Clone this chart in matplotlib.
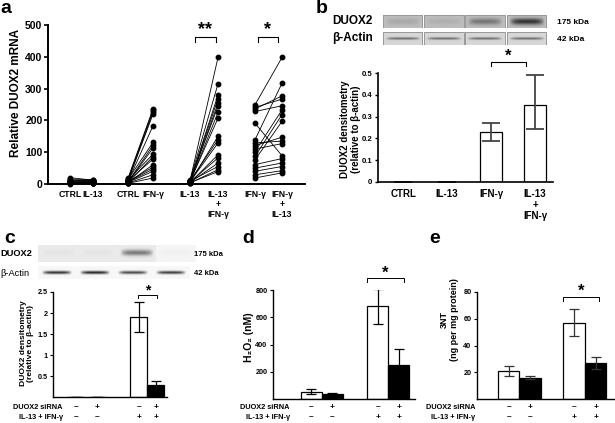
import numpy as np
import matplotlib
matplotlib.use("Agg")
import matplotlib.pyplot as plt
from matplotlib import transforms
from matplotlib.patches import Rectangle

plt.rcParams['font.family'] = ['Liberation Sans', 'DejaVu Sans']
plt.rcParams['font.weight'] = 'bold'

# ---------------- data ----------------
# panel a: paired donor values (relative DUOX2 mRNA)
a_ctrl_1 = [20, 15, 12, 10, 9, 8, 7, 6, 5, 5, 4, 4, 3, 3, 2, 2, 1]
a_il13_1 = [12, 14, 10, 9, 11, 8, 7, 6, 5, 6, 4, 5, 3, 4, 2, 3, 2]
a_ctrl_2 = [18, 15, 12, 10, 8, 14, 6, 5, 12, 4, 10, 3, 8, 6, 5, 3, 2]
a_ifng_2 = [236, 232, 225, 220, 183, 131, 122, 113, 94, 86, 78, 61, 53, 47, 40, 29, 19]
a_il13_3 = [10, 12, 8, 9, 7, 11, 6, 8, 5, 10, 7, 4, 6, 5, 9, 3, 4]
a_combo_3 = [398, 315, 280, 268, 254, 244, 225, 207, 150, 139, 129, 92, 82, 66, 55, 45, 39]
a_ifng_4 = [249, 241, 236, 228, 191, 139, 129, 121, 110, 102, 87, 76, 61, 50, 40, 29, 19]
a_combo_4 = [398, 267, 277, 246, 89, 317, 135, 147, 127, 233, 218, 197, 80, 66, 55, 42, 35]
a_labels = ["CTRL", "IL-13", "CTRL", "IFN-γ", "IL-13", "IL-13\n+\nIFN-γ", "IFN-γ", "IFN-γ\n+\nIL-13"]

# panel b: densitometry
b_labels = ["CTRL", "IL-13", "IFN-γ", "IL-13\n+\nIFN-γ"]
b_values = [0, 0, 0.23, 0.355]
b_err_low = [0, 0, 0.04, 0.11]
b_err_high = [0, 0, 0.04, 0.135]
b_blot_duox2 = [0.08, 0.05, 0.28, 0.55]
b_blot_actin = [0.50, 0.50, 0.50, 0.50]

# panels c, d, e
sirna = ["–", "+", "–", "+"]
cytokine = ["–", "–", "+", "+"]
c_values = [0, 0, 1.9, 0.28]
c_err = [0, 0, 0.36, 0.09]
c_blot_duox2 = [0.03, 0.03, 0.45, 0.02]
c_blot_actin = [0.85, 0.90, 0.75, 0.80]
d_values = [55, 35, 680, 250]
d_err = [15, 8, 130, 120]
e_values = [21, 16, 57, 27]
e_err = [3.5, 1, 10, 4.5]

# ---------------- layout helpers ----------------
W, H = 615, 423
fig = plt.figure(figsize=(6.15, 4.23), dpi=100)


def rect(x0, y0, x1, y1):
    return [x0 / W, 1 - y1 / H, (x1 - x0) / W, (y1 - y0) / H]


def fx(x):
    return x / W


def fy(y):
    return 1 - y / H


def style(ax, lw=1.2):
    for s in ("top", "right"):
        ax.spines[s].set_visible(False)
    for s in ("left", "bottom"):
        ax.spines[s].set_linewidth(lw)


def bracket(ax, x1, x2, ytop, ybot, ystar, stars, fs=11, lw=0.8):
    ax.plot([x1, x1, x2, x2], [ybot, ytop, ytop, ybot], color="black", lw=lw, clip_on=False)
    ax.text((x1 + x2) / 2, ystar, stars, ha="center", va="center", fontsize=fs, fontweight="bold")


def lane_img(strength, bg, sigma, widthfrac, nx=60, ny=30, yc=0.0):
    x = np.linspace(-1, 1, nx)
    y = np.linspace(-1, 1, ny)
    X, Y = np.meshgrid(x, y)
    band = strength * np.exp(-((Y - yc) / sigma) ** 2) * np.clip(1 - (np.abs(X) / widthfrac) ** 4, 0, 1)
    return np.clip(bg - band, 0, 1)


# ---------------- panel a ----------------
axa = fig.add_axes(rect(48, 25, 305, 184))
style(axa, 1.4)
xa = [70, 93, 128, 153, 190, 218, 255, 282]
pairs = [(a_ctrl_1, a_il13_1), (a_ctrl_2, a_ifng_2), (a_il13_3, a_combo_3), (a_ifng_4, a_combo_4)]
for k, (left, right) in enumerate(pairs):
    for l, r in zip(left, right):
        axa.plot([xa[2 * k], xa[2 * k + 1]], [l, r], "-o", color="black", lw=0.6, ms=3.2, clip_on=False)
axa.set_xlim(48, 305)
axa.set_ylim(0, 500)
axa.set_yticks([0, 100, 200, 300, 400, 500])
axa.tick_params(axis="y", labelsize=7.5, length=3, width=1.2, pad=1)
axa.set_xticks(xa)
axa.set_xticklabels(a_labels, fontsize=6.2, linespacing=1.15)
axa.tick_params(axis="x", length=0, pad=4)
bracket(axa, 195, 216, 462, 447, 484, "**", fs=13)
bracket(axa, 258, 278, 462, 447, 484, "*", fs=13)
fig.text(fx(16), fy(93), "Relative DUOX2 mRNA", rotation=90, ha="center", va="center", fontsize=8.5)
fig.text(fx(0), fy(13), "a", fontsize=14, fontweight="bold", va="baseline")

# ---------------- panel b ----------------
fig.text(fx(316), fy(13), "b", fontsize=14, fontweight="bold", va="baseline")
for row, (vals, y0, y1, name, kda, bg, sig) in enumerate([
        (b_blot_duox2, 15, 28, "DUOX2", "175 kDa", 0.74, 0.5),
        (b_blot_actin, 32, 45, "β-Actin", "42 kDa", 0.84, 0.16)]):
    axb_blot = fig.add_axes(rect(382, y0, 547, y1))
    axb_blot.set_xlim(0, 4)
    axb_blot.set_ylim(0, 1)
    axb_blot.axis("off")
    for i, v in enumerate(vals):
        img = lane_img(v, bg, sig, 0.9)
        axb_blot.imshow(img, cmap="gray", vmin=0, vmax=1, extent=(i + 0.02, i + 0.98, 0, 1),
                        aspect="auto", interpolation="bicubic")
        axb_blot.add_patch(Rectangle((i + 0.02, 0), 0.96, 1, fill=False, ec="#999999", lw=0.7))
    fig.text(fx(373), fy((y0 + y1) / 2), name, ha="right", va="center", fontsize=8.5)
    fig.text(fx(557), fy((y0 + y1) / 2 + 1), kda, ha="left", va="center", fontsize=6)

axb = fig.add_axes(rect(378, 73, 553, 182))
style(axb, 1.2)
xb = np.arange(len(b_values))
axb.bar(xb, b_values, width=0.48, color="white", edgecolor="black", lw=0.9,
        yerr=[b_err_low, b_err_high], error_kw=dict(ecolor="#444444", elinewidth=1.3, capsize=6.5, capthick=1.3))
axb.set_xlim(-0.57, 3.41)
axb.set_ylim(0, 0.5)
axb.set_yticks([0, 0.1, 0.2, 0.3, 0.4, 0.5])
axb.set_yticklabels(["0", "0.1", "0.2", "0.3", "0.4", "0.5"])
axb.tick_params(axis="y", labelsize=5.6, length=2.5, width=1, pad=1.5)
axb.set_xticks(xb)
axb.set_xticklabels(b_labels, fontsize=7, linespacing=1.1)
axb.tick_params(axis="x", length=0, pad=5)
bracket(axb, 2.0, 2.8, 0.55, 0.53, 0.577, "*", fs=12)
fig.text(fx(350.5), fy(129), "DUOX2 densitometry\n(relative to β-actin)", rotation=90,
         ha="center", va="center", fontsize=7, linespacing=1.05)

# ---------------- bottom panels ----------------
def bottom_panel(ax_rect, xpos, xlim, values, errs, ylim, yticks, ylabels, row_label_x,
                 err_color="black", pad=1.5):
    ax = fig.add_axes(ax_rect)
    style(ax, 1.0)
    colors = ["white", "black", "white", "black"]
    ax.bar(xpos, values, width=1.0, color=colors, edgecolor="black", lw=0.9,
           yerr=errs, error_kw=dict(ecolor=err_color, elinewidth=0.9, capsize=3.5, capthick=0.9))
    ax.set_xlim(*xlim)
    ax.set_ylim(*ylim)
    ax.set_yticks(yticks)
    ax.set_yticklabels(ylabels)
    ax.tick_params(axis="y", labelsize=5.2, length=2.5, width=0.8, pad=pad)
    ax.set_xticks([])
    tr = transforms.blended_transform_factory(ax.transData, fig.transFigure)
    for x, s, c in zip(xpos, sirna, cytokine):
        ax.text(x, fy(407), s, transform=tr, ha="center", va="center", fontsize=6)
        ax.text(x, fy(417), c, transform=tr, ha="center", va="center", fontsize=6)
    fig.text(fx(row_label_x), fy(407), "DUOX2 siRNA", ha="right", va="center", fontsize=5.3)
    fig.text(fx(row_label_x), fy(417), "IL-13 + IFN-γ", ha="right", va="center", fontsize=5.3)
    return ax


# panel c
fig.text(fx(4), fy(243), "c", fontsize=14, fontweight="bold", va="baseline")
axc_d = fig.add_axes(rect(38, 245, 195, 262))
axc_d.set_xlim(0, 4); axc_d.set_ylim(0, 1); axc_d.axis("off")
for i, v in enumerate(c_blot_duox2):
    bgv = 0.92 if i < 3 else 0.96
    axc_d.imshow(lane_img(v, bgv, 0.35, 0.85, yc=-0.1), cmap="gray", vmin=0, vmax=1,
                 extent=(i, i + 1, 0, 1), aspect="auto", interpolation="bicubic")
axc_a = fig.add_axes(rect(38, 266, 190, 279))
axc_a.set_xlim(0, 4); axc_a.set_ylim(0, 1); axc_a.axis("off")
for i, v in enumerate(c_blot_actin):
    axc_a.imshow(lane_img(v, 0.97, 0.22, 0.8), cmap="gray", vmin=0, vmax=1,
                 extent=(i, i + 1, 0, 1), aspect="auto", interpolation="bicubic")
fig.text(fx(0), fy(254), "DUOX2", ha="left", va="center", fontsize=6.7)
fig.text(fx(0), fy(273), "β-Actin", ha="left", va="center", fontsize=6.7, fontweight="normal")
fig.text(fx(194), fy(254), "175 kDa", ha="left", va="center", fontsize=5.5)
fig.text(fx(194), fy(273), "42 kDa", ha="left", va="center", fontsize=5.5)

axc = bottom_panel(rect(53, 292, 167, 397), [0, 1.25, 3.7, 4.7], (-1.35, 5.35), c_values, c_err,
                   (0, 2.5), [0.5, 1, 1.5, 2, 2.5], ["0.5", "1", "1.5", "2", "2.5"], 63, pad=1.2)
bracket(axc, 3.65, 4.75, 2.43, 2.36, 2.53, "*", fs=10, lw=0.7)
fig.text(fx(27), fy(343), "DUOX2 densitometry\n(relative to β-actin)", rotation=90,
         ha="center", va="center", fontsize=6.1, linespacing=1.05)

# panel d
fig.text(fx(242), fy(243), "d", fontsize=14, fontweight="bold", va="baseline")
axd = bottom_panel(rect(273, 290, 415, 399), [0, 1, 3.15, 4.15], (-1.83, 4.93), d_values, d_err,
                   (0, 800), [200, 400, 600, 800], ["200", "400", "600", "800"], 290)
bracket(axd, 2.64, 4.4, 888, 858, 925, "*", fs=12, lw=0.7)
fig.text(fx(249), fy(337), "H₂O₂ (nM)", rotation=90, ha="center", va="center", fontsize=7.5)

# panel e
fig.text(fx(429), fy(243), "e", fontsize=14, fontweight="bold", va="baseline")
axe = bottom_panel(rect(477, 292, 614, 399), [0, 1, 3.05, 4.05], (-1.47, 4.9), e_values, e_err,
                   (0, 80), [20, 40, 60, 80], ["20", "40", "60", "80"], 475, err_color="#333333")
bracket(axe, 2.53, 4.2, 76.3, 73.5, 80.5, "*", fs=12, lw=0.7)
fig.text(fx(449.5), fy(320), "3NT\n(ng per mg protein)", rotation=90,
         ha="center", va="center", fontsize=6.5, linespacing=1.1)

fig.savefig("out.png", dpi=100)
